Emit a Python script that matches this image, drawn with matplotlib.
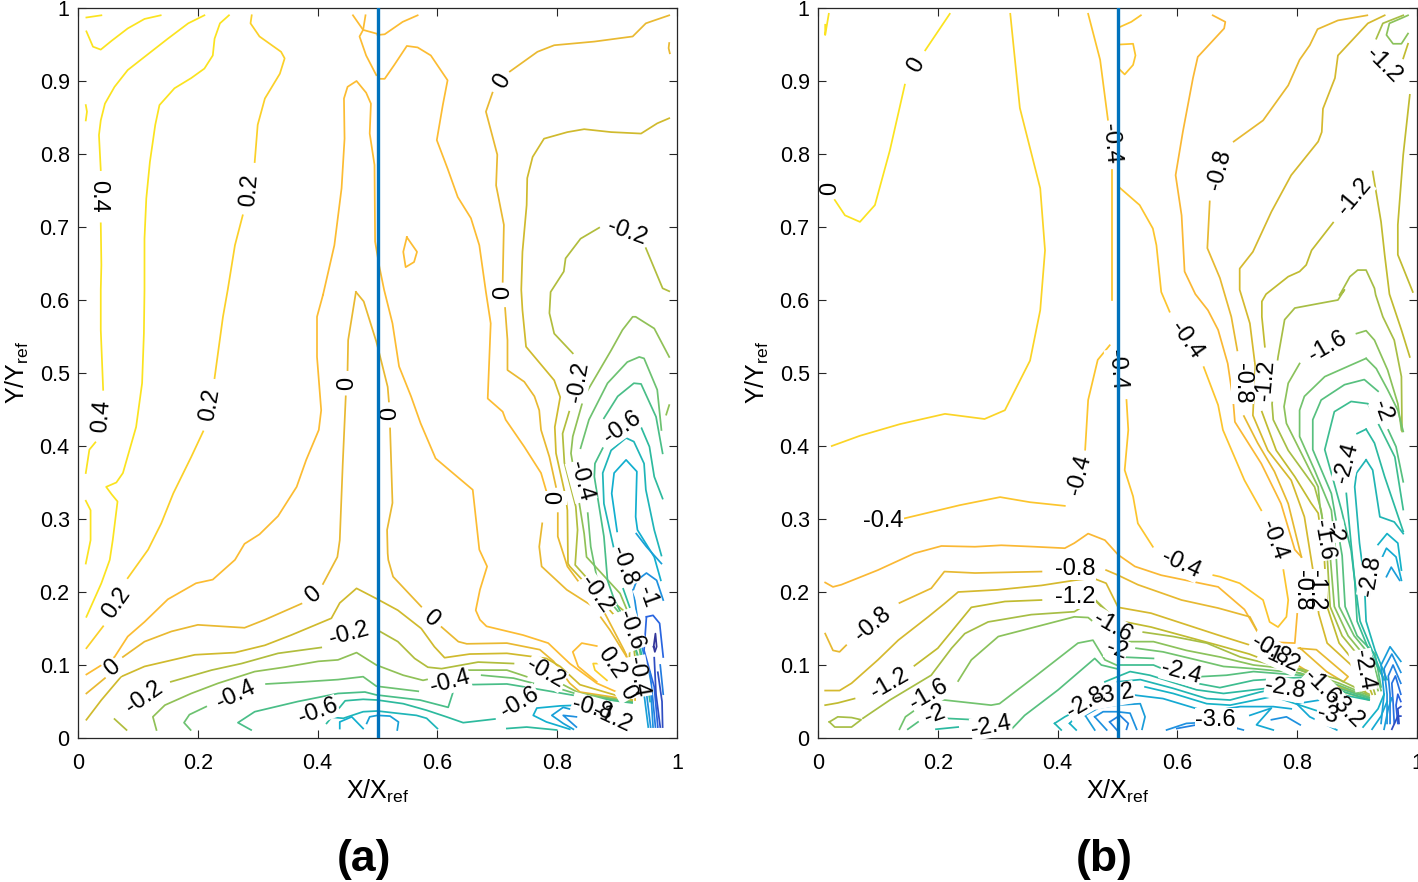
import numpy as np
import matplotlib
matplotlib.use("Agg")
import matplotlib.pyplot as plt
from matplotlib.colors import LinearSegmentedColormap

plt.rcParams["font.family"] = ["Liberation Sans", "DejaVu Sans"]
plt.rcParams["mathtext.fontset"] = "custom"
plt.rcParams["mathtext.rm"] = "Liberation Sans"
plt.rcParams["mathtext.it"] = "Liberation Sans"

# colours like the parula map
parula = LinearSegmentedColormap.from_list("parula", ["#352a87", "#2a5fe0", "#1f8fe0", "#12b0cf", "#30bb98",
                                                      "#7cc467", "#c6ba2c", "#fcb834", "#fbe31f"])
xticks = [0, 0.2, 0.4, 0.6, 0.8, 1]
xtick_labels = ["0", "0.2", "0.4", "0.6", "0.8", "1"]
yticks = [0, 0.1, 0.2, 0.3, 0.4, 0.5, 0.6, 0.7, 0.8, 0.9, 1]
ytick_labels = ["0", "0.1", "0.2", "0.3", "0.4", "0.5", "0.6", "0.7", "0.8", "0.9", "1"]

# ---- panel (a) contour lines, (x, y)
a01 = [(.014,.987),(.039,.990)]
a02 = [(.014,.968),(.025,.947),(.038,.943),(.056,.955),(.083,.972),(.111,.985),(.138,.990)]
a03 = [(.013,.867),(.015,.858),(.013,.846)]
a04 = [(.211,.990),(.184,.979),(.150,.958),(.111,.933),(.083,.915),(.061,.892),(.045,.869),(.038,.846),(.035,.826),(.038,.778)]
a05 = [(.038,.705),(.039,.648),(.038,.614),(.038,.559),(.042,.477)]
a06 = [(.029,.405),(.019,.395),(.013,.363)]
a07 = [(.013,.325),(.021,.312),(.021,.271),(.013,.239)]
a08 = [(.252,.990),(.237,.979),(.228,.958),(.225,.935),(.211,.917),(.189,.904),(.161,.890),(.136,.867),(.129,.840),(.120,.789),
       (.114,.739),(.111,.684),(.111,.614),(.110,.554),(.107,.486),(.097,.426),(.075,.363),(.064,.350),(.047,.344),(.056,.334),
       (.066,.324),(.058,.271),(.053,.244),(.039,.212),(.014,.166)]
a09 = [(.290,.990),(.288,.979),(.303,.961),(.339,.940),(.345,.931),(.337,.910),(.312,.876),(.300,.840),(.295,.789)]
a10 = [(.275,.716),(.262,.675),(.250,.614),(.242,.577),(.228,.493)]
a11 = [(.209,.420),(.189,.385),(.159,.335),(.139,.294),(.117,.258),(.083,.219)]
a12 = [(.042,.153),(.014,.123)]
a13 = [(.409,.607),(.428,.675),(.440,.753),(.445,.821),(.444,.876),(.450,.892),(.465,.900),(.481,.884),(.489,.869),(.487,.828),
       (.495,.785),(.496,.680),(.503,.646),(.511,.614),(.525,.568),(.536,.509),(.556,.468),(.572,.431),(.597,.383),(.620,.367),
       (.659,.340),(.670,.258),(.683,.235),(.671,.203),(.664,.175),(.671,.162),(.682,.153),(.743,.141),(.785,.130),(.821,.102),
       (.866,.075),(.916,.057)]
a14 = [(.409,.607),(.399,.577),(.399,.522),(.406,.449),(.402,.422),(.381,.381),(.365,.344),(.334,.304),(.303,.279),(.278,.266),
       (.262,.244),(.225,.217),(.197,.212),(.150,.190),(.111,.159),(.083,.139),(.061,.111),(.014,.087)]
a15 = [(.459,.990),(.476,.970),(.470,.961),(.481,.935),(.498,.908)]
a16 = [(.480,.990),(.476,.970),(.498,.965)]
a17 = [(.500,.963),(.512,.964),(.542,.981),(.567,.990)]
a18 = [(.503,.903),(.512,.903),(.528,.922),(.549,.948),(.567,.946),(.589,.935),(.617,.901),(.609,.867),(.599,.819),(.617,.780),
       (.634,.741),(.656,.712),(.670,.675),(.681,.611),(.689,.568),(.684,.465),(.709,.447),(.714,.436),(.745,.399),(.773,.363),(.783,.335)]
a19 = [(.775,.294),(.770,.262),(.774,.235),(.816,.203),(.860,.180),(.888,.148),(.916,.111),(.930,.089),(.930,.052)]
a20 = [(.987,.990),(.962,.983),(.948,.979),(.926,.961),(.862,.954),(.795,.949),(.767,.940),(.721,.913)]
a21 = [(.692,.884),(.681,.858),(.692,.824),(.700,.799),(.698,.757),(.711,.703),(.709,.625)]
a22 = [(.713,.589),(.717,.545),(.717,.504),(.745,.488),(.762,.468),(.770,.449),(.773,.422),(.787,.385),(.798,.344)]
a23 = [(.801,.308),(.801,.276),(.817,.235),(.834,.216),(.880,.170),(.915,.115),(.925,.075)]
a24 = [(.464,.611),(.477,.598),(.498,.543),(.503,.527),(.517,.481),(.519,.461)]
a25 = [(.464,.611),(.451,.545),(.450,.504)]
a26 = [(.447,.468),(.442,.376),(.437,.271),(.433,.248),(.409,.211)]
a27 = [(.521,.424),(.525,.322),(.516,.285),(.517,.253),(.518,.244),(.526,.221),(.573,.180)]
a28 = [(.607,.152),(.635,.132),(.649,.129),(.716,.130),(.771,.121),(.794,.105),(.821,.075),(.838,.063),(.925,.052)]
a29 = [(.373,.184),(.312,.162),(.278,.151),(.200,.155),(.156,.146),(.111,.132),(.075,.111)]
a30 = [(.045,.082),(.014,.061)]
a31 = [(.014,.025),(.039,.052),(.072,.084),(.111,.098),(.195,.114),(.262,.117),(.312,.127),(.356,.141),(.423,.164),(.437,.185),
       (.465,.205),(.498,.191),(.534,.175),(.573,.150),(.595,.125),(.612,.110),(.654,.115),(.716,.116),(.782,.109),(.805,.098),
       (.838,.073),(.925,.052)]
a32 = [(.987,.849),(.967,.842),(.940,.828),(.890,.830),(.845,.834),(.817,.830),(.778,.821),(.759,.796),(.750,.767),(.749,.730),
       (.742,.666),(.740,.614),(.742,.586),(.748,.536),(.795,.490),(.805,.467),(.796,.426),(.798,.390),(.814,.331),(.817,.312),
       (.818,.239),(.821,.235),(.863,.198),(.902,.162),(.921,.120),(.919,.070)]
a33 = [(.081,.011),(.061,.026)]
a34 = [(.155,.077),(.223,.093),(.273,.102),(.334,.116),(.406,.124)]
a35 = [(.504,.146),(.534,.132),(.562,.109),(.584,.097),(.607,.095),(.668,.104),(.727,.102)]
a36 = [(.987,.612),(.976,.616),(.948,.671)]
a37 = [(.870,.699),(.839,.684),(.814,.657),(.811,.639),(.789,.611),(.787,.582),(.795,.554),(.826,.527)]
a38 = [(.820,.447),(.809,.417),(.812,.377),(.831,.317),(.834,.285),(.830,.237),(.863,.207),(.910,.175),(.927,.130),(.933,.089)]
a39 = [(.131,.011),(.125,.029),(.145,.045),(.189,.061),(.234,.075),(.295,.091),(.345,.097),(.401,.105),(.434,.107),(.465,.117),
       (.498,.100),(.543,.086),(.576,.079),(.615,.086),(.649,.093),(.716,.093),(.749,.084)]
a40 = [(.810,.073),(.838,.061),(.925,.050)]
a41 = [(.987,.522),(.962,.561),(.931,.577),(.926,.577),(.909,.559),(.890,.531),(.845,.468),(.826,.413),(.823,.390),(.837,.321),
       (.845,.280),(.849,.248),(.905,.198),(.933,.143),(.944,.089)]
a42 = [(.188,.011),(.177,.021),(.186,.032),(.214,.043)]
a43 = [(.314,.074),(.378,.077),(.434,.080),(.476,.084),(.498,.071),(.568,.064)]
a44 = [(.674,.086),(.727,.082),(.760,.075)]
a45 = [(.810,.066),(.838,.059),(.925,.049)]
a46 = [(.974,.422),(.967,.477),(.945,.520),(.937,.522),(.917,.515),(.884,.486),(.853,.436),(.839,.397)]
a47 = [(.851,.308),(.856,.262),(.867,.216),(.885,.190),(.915,.160),(.935,.110),(.945,.070)]
a48 = [(.289,.011),(.267,.021),(.295,.036),(.367,.050),(.434,.061),(.479,.063),(.498,.059),(.571,.052),(.618,.042),(.625,.060),
       (.627,.066),(.649,.073),(.716,.074),(.760,.068),(.838,.057),(.925,.048)]
a49 = [(.976,.390),(.965,.440),(.940,.485),(.928,.486),(.901,.468),(.878,.438)]
a50 = [(.876,.397),(.863,.376),(.862,.358),(.878,.276),(.884,.216),(.895,.190),(.920,.150),(.940,.100),(.950,.060)]
a51 = [(.415,.020),(.446,.051),(.476,.053),(.500,.052),(.543,.047),(.582,.038),(.615,.029),(.643,.021),(.696,.026)]
a52 = [(.716,.013),(.749,.015),(.799,.011)]
a53 = [(.940,.426),(.954,.399),(.962,.358),(.976,.328)]
a54 = [(.903,.221),(.895,.258),(.878,.321),(.876,.363),(.890,.394),(.915,.411),(.928,.406),(.945,.376),(.948,.340),(.962,.285),(.974,.250)]
a55 = [(.838,.045),(.805,.044),(.766,.041),(.760,.031),(.782,.022),(.821,.012)]
a56 = [(.415,.029),(.443,.027),(.476,.036),(.500,.037),(.532,.034),(.565,.031),(.582,.027),(.600,.013)]
a57 = [(.900,.283),(.891,.335),(.895,.363),(.915,.381),(.933,.365),(.931,.303),(.934,.285),(.962,.248),(.973,.216)]
a58 = [(.838,.036),(.810,.042),(.791,.031),(.810,.020),(.827,.012)]
a59 = [(.437,.013),(.437,.022),(.457,.029),(.476,.013)]
a60 = [(.832,.029),(.810,.031),(.832,.015)]
a61 = [(.482,.020),(.487,.029),(.500,.031),(.521,.030),(.535,.022),(.533,.011)]
a62 = [(.932,.280),(.949,.262),(.974,.239)]
a63 = [(.903,.221),(.925,.170),(.945,.100),(.955,.050)]
a64 = [(.927,.203),(.933,.216),(.949,.226),(.966,.216),(.977,.189)]
a65 = [(.927,.203),(.940,.130),(.955,.080),(.960,.015)]
a66 = [(.949,.166),(.960,.168),(.971,.157),(.977,.111)]
a67 = [(.949,.166),(.945,.120),(.962,.070),(.968,.015)]
a68 = [(.866,.034),(.894,.031),(.916,.020),(.894,.013),(.871,.020),(.866,.034)]
a69 = [(.962,.110),(.965,.060),(.972,.015)]
a70 = [(.961,.125),(.964,.143),(.966,.125),(.963,.118),(.961,.125)]
a71 = [(.549,.686),(.566,.666),(.561,.652),(.547,.645),(.543,.666),(.549,.686)]
a72 = [(.987,.952),(.986,.945),(.988,.938)]
a73 = [(.987,.456),(.982,.443)]
a74 = [(.866,.126),(.841,.130),(.826,.118),(.835,.098),(.866,.077)]
a75 = [(.883,.102),(.860,.102),(.863,.093),(.883,.079)]
a76 = [(.935,.100),(.945,.060),(.952,.015)]
a77 = [(.945,.090),(.950,.055),(.956,.015)]
a78 = [(.955,.090),(.960,.050),(.964,.015)]
a79 = [(.968,.090),(.975,.050),(.976,.015)]
a80 = [(.972,.100),(.977,.060)]

curves_a = [(0.4,a01),(0.4,a02),(0.4,a03),(0.4,a04),(0.4,a05),(0.4,a06),(0.4,a07),(0.3,a08),(0.2,a09),(0.2,a10),(0.2,a11),(0.2,a12),
            (0.1,a13),(0.1,a14),(0.1,a15),(0.1,a16),(0.1,a17),(0.1,a18),(0,a19),(0,a20),(0,a21),(0,a22),(0,a23),(0,a24),(0,a25),(0,a26),
            (0,a27),(0,a28),(0,a29),(0,a30),(-0.1,a31),(-0.1,a32),(-0.2,a33),(-0.2,a34),(-0.2,a35),(-0.2,a36),(-0.2,a37),(-0.2,a38),
            (-0.3,a39),(-0.3,a40),(-0.3,a41),(-0.4,a42),(-0.4,a43),(-0.4,a44),(-0.4,a45),(-0.4,a46),(-0.4,a47),(-0.5,a48),(-0.5,a49),
            (-0.5,a50),(-0.6,a51),(-0.6,a52),(-0.6,a53),(-0.7,a54),(-0.8,a55),(-0.7,a56),(-0.8,a57),(-0.9,a58),(-0.8,a59),(-1,a60),
            (-0.9,a61),(-0.9,a62),(-0.6,a63),(-1,a64),(-1,a65),(-1.2,a66),(-1.2,a67),(-1.2,a68),(-1.3,a69),(-1.4,a70),(0.1,a71),
            (0,a72),(-0.3,a73),(0.1,a74),(0.2,a75),(-0.9,a76),(-1,a77),(-1.1,a78),(-1.3,a79),(-1.1,a80)]

# ---- panel (b) contour lines
b01 = [(.028,.737),(.045,.716),(.070,.707),(.095,.730),(.120,.805),(.145,.895)]
b02 = [(.179,.942),(.220,.992)]
b03 = [(.012,.977),(.012,.963),(.018,.992)]
b04 = [(.321,.992),(.337,.863),(.371,.753),(.379,.668),(.371,.586),(.354,.517),(.312,.449),(.278,.437),(.212,.444),(.137,.430),(.070,.414),(.023,.400)]
b05 = [(.145,.301),(.237,.319),(.304,.330),(.354,.323),(.412,.318)]
b06 = [(.446,.395),(.451,.463),(.467,.518),(.487,.538)]
b07 = [(.491,.600),(.491,.778)]
b08 = [(.484,.847),(.471,.929),(.451,.992)]
b09 = [(.504,.950),(.526,.951),(.530,.935),(.526,.922),(.512,.909),(.502,.917)]
b10 = [(.504,.974),(.523,.981),(.539,.990)]
b11 = [(.502,.755),(.537,.730),(.559,.698),(.565,.675),(.573,.611),(.587,.584)]
b12 = [(.644,.508),(.668,.456),(.676,.422),(.712,.353),(.740,.312)]
b13 = [(.777,.230),(.785,.189),(.782,.166),(.768,.152),(.754,.159),(.743,.189),(.704,.212),(.671,.221),(.660,.223)]
b14 = [(.515,.463),(.518,.422),(.512,.367),(.526,.331),(.534,.294),(.559,.262)]
b15 = [(.012,.213),(.025,.207),(.039,.210),(.100,.230),(.161,.253),(.206,.263),(.262,.262),(.306,.264),(.362,.262),(.412,.260),
       (.428,.267),(.451,.280),(.479,.271),(.501,.251),(.529,.235),(.573,.223),(.668,.207),(.712,.176),(.743,.132),(.796,.130),(.800,.170)]
b16 = [(.659,.990),(.680,.981),(.678,.972),(.634,.933),(.626,.904),(.609,.830),(.597,.771),(.607,.716),(.612,.639),(.630,.608),
       (.651,.586),(.668,.559),(.684,.513),(.693,.463),(.696,.433),(.740,.376),(.773,.321),(.796,.258),(.807,.248)]
b17 = [(.917,.990),(.868,.983),(.834,.971),(.821,.949),(.804,.929),(.785,.894),(.743,.846),(.694,.817)]
b18 = [(.654,.735),(.650,.671),(.671,.630),(.690,.577),(.700,.531)]
b19 = [(.711,.441),(.734,.404),(.762,.365),(.785,.321),(.807,.248)]
b20 = [(.012,.143),(.025,.120),(.036,.118),(.047,.127)]
b21 = [(.136,.185),(.189,.205),(.211,.228),(.262,.226),(.373,.228)]
b22 = [(.481,.230),(.501,.223),(.534,.210),(.607,.189),(.668,.178),(.721,.166),(.738,.139),(.790,.105),(.850,.075),(.900,.060)]
b23 = [(.802,.123),(.832,.121),(.885,.084),(.877,.077),(.849,.091),(.805,.123)]
b24 = [(.012,.065),(.036,.065),(.056,.075),(.100,.107),(.134,.134),(.184,.166),(.211,.184),(.234,.200),(.300,.203),(.373,.209),
       (.428,.216),(.459,.219),(.481,.212),(.501,.179),(.556,.171),(.668,.141),(.730,.125),(.800,.095),(.870,.070),(.920,.055)]
b25 = [(.946,.990),(.918,.979),(.868,.935),(.863,.904),(.843,.862),(.841,.830),(.835,.817),(.790,.771),(.757,.721),(.726,.666),
       (.704,.643),(.704,.614),(.721,.568),(.730,.509),(.726,.442),(.751,.394),(.790,.353),(.812,.303),(.829,.216),(.836,.170),
       (.850,.130),(.890,.100),(.910,.075),(.915,.060)]
b26 = [(.012,.045),(.033,.048),(.061,.054)]
b27 = [(.161,.099),(.200,.123),(.256,.179),(.312,.187),(.373,.189)]
b28 = [(.462,.189),(.490,.166),(.501,.161),(.556,.152),(.668,.127),(.720,.115),(.800,.090),(.870,.065),(.920,.052)]
b29 = [(.860,.706),(.824,.668),(.815,.648),(.804,.639),(.785,.632),(.748,.608),(.741,.598),(.741,.577),(.746,.536)]
b30 = [(.741,.447),(.765,.394),(.796,.358),(.823,.322),(.835,.308),(.845,.250),(.850,.180),(.870,.130),(.910,.090),(.925,.060)]
b31 = [(.926,.776),(.940,.707),(.946,.662),(.954,.608),(.974,.559),(.988,.522)]
b32 = [(.977,.931),(.985,.951)]
b33 = [(.988,.881),(.977,.799),(.968,.703),(.968,.662),(.993,.611)]
b34 = [(.019,.022),(.033,.029),(.056,.028),(.072,.025),(.056,.015),(.028,.015),(.019,.022)]
b35 = [(.075,.027),(.120,.052),(.189,.086),(.223,.123),(.245,.143),(.284,.159),(.356,.169),(.428,.173),(.462,.190),(.490,.168),(.498,.152)]
b36 = [(.871,.607),(.888,.632),(.901,.641),(.915,.641),(.929,.616),(.931,.607),(.943,.577),(.962,.545),(.974,.495),(.975,.420)]
b37 = [(.871,.607),(.879,.614),(.868,.600),(.835,.595),(.796,.589),(.779,.573),(.768,.522),(.758,.458),(.760,.436),(.785,.394),
       (.829,.344),(.840,.312),(.850,.250),(.855,.180),(.875,.140),(.915,.100),(.930,.060)]
b38 = [(.543,.145),(.593,.139),(.649,.130),(.705,.111),(.760,.100),(.805,.095),(.870,.080),(.920,.060)]
b39 = [(.932,.958),(.943,.979),(.977,.990)]
b40 = [(.985,.965),(.974,.951),(.960,.951),(.949,.963),(.954,.979),(.974,.986),(.985,.990)]
b41 = [(.234,.078),(.256,.107),(.301,.139),(.367,.153),(.428,.166),(.451,.165),(.479,.146),(.498,.136)]
b42 = [(.804,.513),(.785,.486),(.778,.454),(.782,.431),(.807,.390),(.835,.344),(.838,.317),(.855,.250),(.862,.180),(.885,.140),(.920,.105),(.935,.065)]
b43 = [(.899,.554),(.915,.558),(.929,.545),(.951,.504),(.968,.458),(.974,.422)]
b44 = [(.504,.132),(.560,.132),(.615,.120),(.671,.111),(.727,.100),(.805,.093),(.870,.075),(.920,.058)]
b45 = [(.136,.012),(.146,.029),(.189,.054),(.289,.045),(.303,.047),(.362,.084),(.434,.130),(.459,.134),(.479,.107),(.498,.100)]
b46 = [(.915,.520),(.890,.511),(.846,.495),(.812,.468),(.804,.449),(.804,.413),(.829,.367),(.857,.312),(.865,.250),(.870,.180),(.895,.140),(.925,.110),(.940,.065)]
b47 = [(.915,.520),(.932,.506),(.951,.477),(.968,.449),(.977,.420)]
b48 = [(.531,.123),(.576,.118),(.632,.107),(.677,.098),(.727,.095),(.805,.089),(.870,.072),(.920,.056)]
b49 = [(.150,.012),(.167,.022)]
b50 = [(.211,.027),(.262,.025)]
b51 = [(.323,.012),(.345,.031),(.401,.066),(.462,.109),(.473,.100),(.498,.095)]
b52 = [(.935,.475),(.912,.491),(.879,.484),(.840,.463),(.826,.436),(.826,.395),(.857,.335),(.862,.312),(.875,.250),(.880,.180),(.900,.140),(.930,.115),(.940,.070)]
b53 = [(.952,.422),(.965,.399),(.977,.351)]
b54 = [(.504,.111),(.560,.109)]
b55 = [(.638,.084),(.682,.086),(.727,.091),(.805,.086),(.870,.068),(.920,.055)]
b56 = [(.197,.012),(.234,.015)]
b57 = [(.932,.436),(.918,.458),(.890,.461),(.862,.447),(.846,.395),(.860,.354),(.874,.312),(.890,.257),(.896,.216),(.900,.160),(.920,.120),(.945,.080)]
b58 = [(.932,.436),(.963,.385),(.977,.313)]
b59 = [(.501,.100),(.560,.100),(.632,.075),(.671,.069),(.727,.079),(.805,.083),(.870,.065),(.920,.053)]
b60 = [(.915,.423),(.900,.417)]
b61 = [(.882,.335),(.890,.266),(.896,.216),(.905,.160),(.925,.120),(.945,.080)]
b62 = [(.915,.423),(.929,.404),(.946,.358),(.977,.283)]
b63 = [(.479,.077),(.521,.091),(.554,.086),(.632,.066),(.677,.061),(.749,.068),(.800,.073),(.870,.060),(.920,.052)]
b64 = [(.915,.381),(.899,.363),(.896,.344),(.904,.267),(.912,.216),(.915,.160),(.930,.120),(.950,.080)]
b65 = [(.915,.381),(.926,.367),(.938,.303),(.962,.296),(.977,.280)]
b66 = [(.500,.077),(.538,.080),(.593,.068),(.649,.054),(.688,.052),(.738,.063),(.760,.066)]
b67 = [(.395,.020),(.412,.029),(.445,.043),(.490,.066)]
b68 = [(.395,.020),(.406,.011)]
b69 = [(.546,.070),(.593,.061),(.649,.047),(.688,.045),(.760,.057),(.860,.030)]
b70 = [(.420,.020),(.440,.036),(.454,.045)]
b71 = [(.420,.020),(.431,.011)]
b72 = [(.935,.265),(.950,.280),(.968,.267),(.974,.230)]
b73 = [(.526,.059),(.576,.054),(.649,.036),(.705,.043),(.760,.043),(.790,.040)]
b74 = [(.799,.047),(.821,.029),(.866,.011)]
b75 = [(.799,.047),(.838,.052)]
b76 = [(.937,.239),(.949,.260),(.965,.248),(.974,.216)]
b77 = [(.446,.031),(.468,.041),(.499,.045),(.538,.047),(.546,.029),(.541,.012)]
b78 = [(.446,.031),(.462,.011)]
b79 = [(.949,.221),(.957,.234),(.971,.216)]
b80 = [(.721,.031),(.757,.041),(.732,.018),(.760,.011)]
b81 = [(.940,.020),(.945,.060),(.940,.100),(.955,.125),(.973,.105)]
b82 = [(.462,.029),(.476,.036),(.499,.036),(.521,.034),(.532,.012)]
b83 = [(.462,.029),(.482,.011)]
b84 = [(.582,.011),(.615,.020),(.660,.022),(.710,.011)]
b85 = [(.757,.025),(.782,.029),(.805,.018)]
b86 = [(.950,.020),(.950,.060),(.945,.095),(.958,.115),(.973,.090)]
b87 = [(.487,.022),(.504,.031),(.518,.020),(.515,.012)]
b88 = [(.487,.022),(.501,.009)]
b89 = [(.599,.013),(.632,.018),(.699,.013)]
b90 = [(.955,.020),(.955,.060),(.952,.085),(.960,.100),(.973,.075)]
b91 = [(.962,.020),(.960,.050),(.958,.075),(.964,.085),(.973,.060)]
b92 = [(.968,.020),(.965,.045),(.968,.060),(.973,.050)]
b93 = [(.958,.012),(.968,.030),(.973,.030)]
b94 = [(.910,.015),(.935,.040),(.945,.060)]
b95 = [(.925,.012),(.940,.030),(.950,.050)]
b96 = [(.970,.020),(.968,.040),(.973,.043)]
b97 = [(.945,.012),(.952,.040),(.958,.055)]

curves_b = [(0,b01),(0,b02),(0,b03),(-0.2,b04),(-0.4,b05),(-0.4,b06),(-0.4,b07),(-0.4,b08),(-0.4,b09),(-0.4,b10),(-0.4,b11),(-0.4,b12),
            (-0.4,b13),(-0.4,b14),(-0.6,b15),(-0.6,b16),(-0.8,b17),(-0.8,b18),(-0.8,b19),(-0.8,b20),(-0.8,b21),(-0.8,b22),(-0.8,b23),
            (-1,b24),(-1,b25),(-1.2,b26),(-1.2,b27),(-1.2,b28),(-1.2,b29),(-1.2,b30),(-1.2,b31),(-1.2,b32),(-1.2,b33),(-1.4,b34),(-1.4,b35),
            (-1.4,b36),(-1.4,b37),(-1.4,b38),(-1.4,b39),(-1.6,b40),(-1.6,b41),(-1.6,b42),(-1.6,b43),(-1.6,b44),(-1.8,b45),(-1.8,b46),
            (-1.8,b47),(-1.8,b48),(-2,b49),(-2.2,b50),(-2,b51),(-2,b52),(-2,b53),(-2,b54),(-2,b55),(-2.4,b56),(-2.2,b57),(-2.2,b58),
            (-2.2,b59),(-2.4,b60),(-2.4,b61),(-2.4,b62),(-2.4,b63),(-2.6,b64),(-2.6,b65),(-2.6,b66),(-2.6,b67),(-2.6,b68),(-2.8,b69),
            (-2.8,b70),(-2.8,b71),(-2.8,b72),(-3,b73),(-3,b74),(-3,b75),(-3,b76),(-3.2,b77),(-3.2,b78),(-3.2,b79),(-3,b80),(-3.2,b81),
            (-3.4,b82),(-3.4,b83),(-3.4,b84),(-3.4,b85),(-3.4,b86),(-3.6,b87),(-3.6,b88),(-3.6,b89),(-3.6,b90),(-3.8,b91),(-4,b92),
            (-4.2,b93),(-2.8,b94),(-3,b95),(-4.2,b96),(-3.2,b97)]

# ---- contour labels: text, x, y, rotation
labels_a = [("0.4",.033,.742,-90),("0.2",.287,.751,85),("0",.708,.899,60),("-0.2",.917,.693,-20),("0",.710,.610,90),
            ("0.4",.040,.441,85),("0.2",.220,.456,80),("0",.449,.486,90),("0",.521,.444,90),("-0.2",.835,.488,80),
            ("-0.6",.908,.426,35),("-0.4",.840,.352,-75),("0",.798,.329,90),("-0.8",.911,.236,-70),("-0.2",.865,.197,-55),
            ("-1",.950,.193,-70),("0.2",.065,.185,55),("0",.392,.196,40),("0",.589,.164,-40),("-0.6",.922,.148,-70),
            ("-0.2",.452,.142,15),("0.2",.890,.103,-55),("0",.058,.096,40),("-0.4",.934,.084,-80),("-0.2",.781,.089,-30),
            ("-0.4",.621,.077,15),("-0.2",.110,.056,35),("-0.4",.264,.059,25),("0",.917,.062,-60),("-0.8",.858,.041,-15),
            ("-1.2",.891,.027,-25),("-0.6",.738,.048,30),("-0.6",.401,.036,20)]
labels_b = [("0",.164,.922,60),("0",.020,.753,90),("-0.4",.489,.814,-85),("-1.2",.945,.922,-45),("-0.8",.671,.778,75),
            ("-1.2",.896,.741,50),("-0.4",.616,.545,-55),("-1.6",.850,.536,30),("-0.8",.708,.486,-90),("-1.2",.748,.490,85),
            ("-0.4",.499,.504,-85),("-2",.942,.448,-70),("-2.4",.883,.377,75),("-0.4",.437,.360,75),("-0.4",.109,.297,0),
            ("-0.4",.761,.271,-70),("-2",.861,.282,-80),("-1.6",.843,.271,-80),("-2.8",.923,.222,80),("-0.4",.606,.238,-25),
            ("-0.8",.808,.203,-90),("-1.2",.831,.203,-90),("-0.8",.429,.232,0),("-1.2",.429,.193,0),("-0.8",.092,.156,40),
            ("-1.6",.492,.152,-30),("-2",.499,.121,-20),("-0.8",.755,.121,-30),("-1.2",.771,.110,-25),("-2.4",.606,.090,-15),
            ("-2.4",.910,.093,-80),("-1.2",.120,.074,30),("-1.6",.185,.059,30),("-2.8",.780,.067,-10),("-1.6",.841,.070,-45),
            ("-2",.195,.032,20),("-2.4",.289,.016,10),("-2.8",.446,.049,30),("-3.2",.494,.059,10),("-3.6",.664,.025,0),
            ("-3",.850,.032,-15),("-3.2",.880,.038,-45)]

fig = plt.figure(figsize=(14.18, 8.82), dpi=100)
ax1 = fig.add_axes([78/1418, 1-738/882, 599/1418, 730/882])
ax2 = fig.add_axes([818/1418, 1-738/882, 599/1418, 730/882])


def draw_panel(ax, curves, labels, vmin, vmax):
    for lev, c in curves:
        pts = np.array(c)
        ax.plot(pts[:, 0], pts[:, 1], color=parula((lev-vmin)/(vmax-vmin)), lw=1.25, zorder=2, solid_joinstyle="round")
    for txt, x, y, rot in labels:
        ax.text(x, y, txt, rotation=rot, ha="center", va="center", fontsize=17, color="white", zorder=3,
                rotation_mode="anchor", bbox=dict(fc="white", ec="none", pad=0.3))
    for txt, x, y, rot in labels:
        ax.text(x, y, txt, rotation=rot, ha="center", va="center", fontsize=17, color="black", zorder=4,
                rotation_mode="anchor")
    # station line
    ax.plot([0.5, 0.5], [0, 1], color="#0072BD", lw=2.4, zorder=5)
    ax.set_xlim(0, 1)
    ax.set_ylim(0, 1)
    ax.set_xticks(xticks)
    ax.set_xticklabels(xtick_labels)
    ax.set_yticks(yticks)
    ax.set_yticklabels(ytick_labels)
    ax.tick_params(direction="in", top=True, right=True, length=6, width=0.8, color="#262626", labelsize=15.5)
    ax.tick_params(axis="x", pad=11)
    ax.tick_params(axis="y", pad=6)
    for s in ax.spines.values():
        s.set_linewidth(0.9)
        s.set_color("#262626")
    ax.set_xlabel(r"X/X$_{\mathrm{ref}}$", fontsize=18)
    ax.set_ylabel(r"Y/Y$_{\mathrm{ref}}$", fontsize=18)
    ax.xaxis.set_label_coords(0.5, -0.054)
    ax.yaxis.set_label_coords(-0.079, 0.5)


draw_panel(ax1, curves_a, labels_a, -1.45, 0.3)
draw_panel(ax2, curves_b, labels_b, -4.6, 0.0)

fig.text(364/1418, 1-860/882, "(a)", fontsize=32, fontweight="bold", ha="center", va="center")
fig.text(1104/1418, 1-860/882, "(b)", fontsize=32, fontweight="bold", ha="center", va="center")

plt.savefig("out.png", dpi=100)
